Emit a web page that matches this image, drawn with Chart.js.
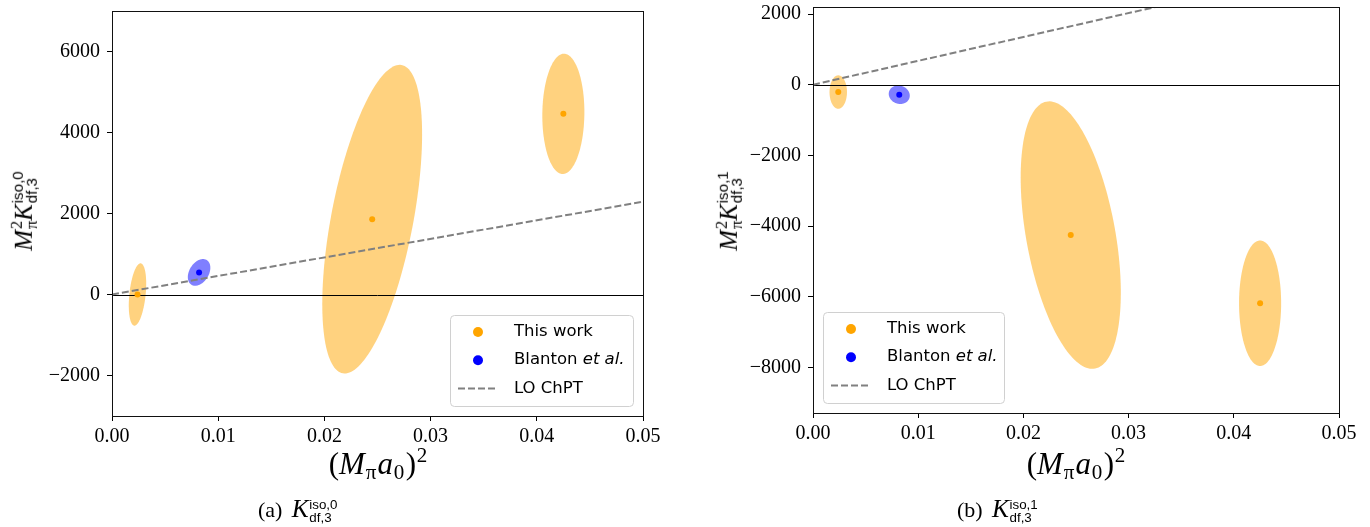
<!DOCTYPE html>
<html><head><meta charset="utf-8">
<script src="https://cdn.jsdelivr.net/npm/chart.js@4.4.0/dist/chart.umd.min.js"></script>
<style>
html,body{margin:0;padding:0;background:#fff;width:1370px;height:527px;overflow:hidden;position:relative;}
canvas{position:absolute;top:0;}
#c1{left:0;}
#c2{left:700px;}
.t{position:absolute;font-family:"Liberation Serif",serif;color:#000;white-space:nowrap;line-height:1;}
.sc{display:inline-block;vertical-align:-0.32em;line-height:0.92;font-size:0.66em;text-align:left;margin-left:0.05em;}
.sc span{display:block;}
.sf{font-family:"Liberation Sans",sans-serif;font-size:0.92em;}
.rot{transform:translate(-50%,-50%) rotate(-90deg);}
.cen{transform:translateX(-50%);}
.cap{font-size:22px;}
.cap i{font-size:1.15em;margin-left:0.15em;}
sup.s{font-size:0.68em;vertical-align:0.55em;line-height:0;margin-left:0.04em;}
sub.s{font-size:0.68em;vertical-align:-0.25em;line-height:0;margin-left:0.04em;margin-right:0.06em;}
</style></head><body>
<canvas id="c1" width="690" height="527"></canvas>
<canvas id="c2" width="670" height="527"></canvas>

<div class="t rot" style="left:24px;top:211px;font-size:25px;"><i>M</i><span class="sc"><span>2</span><span>π</span></span><i>K</i><span class="sc"><span class="sf">iso,0</span><span class="sf">df,3</span></span></div>
<div class="t rot" style="left:729px;top:211px;font-size:25px;"><i>M</i><span class="sc"><span>2</span><span>π</span></span><i>K</i><span class="sc"><span class="sf">iso,1</span><span class="sf">df,3</span></span></div>

<div class="t cen" style="left:378px;top:448px;font-size:31px;">(<i>M</i><sub class="s">π</sub><i>a</i><sub class="s">0</sub>)<sup class="s">2</sup></div>
<div class="t cen" style="left:1076px;top:448px;font-size:31px;">(<i>M</i><sub class="s">π</sub><i>a</i><sub class="s">0</sub>)<sup class="s">2</sup></div>

<div class="t cap" style="left:258px;top:496px;">(a) <i>K</i><span class="sc"><span class="sf">iso,0</span><span class="sf">df,3</span></span></div>
<div class="t cap" style="left:957px;top:496px;">(b) <i>K</i><span class="sc"><span class="sf">iso,1</span><span class="sf">df,3</span></span></div>

<script>
// ---------------- data ----------------
const xTicks = [0, 0.01, 0.02, 0.03, 0.04, 0.05];
const yTicksIso0 = [-2000, 0, 2000, 4000, 6000];
const yTicksIso1 = [-8000, -6000, -4000, -2000, 0, 2000];
const seriesLabels = ['This work', 'Blanton et al.', 'LO ChPT'];

// This work (three ensembles)
const thisWorkX = [0.0024, 0.0245, 0.0425];
const thisWorkIso0Y = [0, 1860, 4460];
const thisWorkIso0ErrX = [0.00082, 0.0047, 0.00198];
const thisWorkIso0ErrY = [770, 3810, 1485];
const thisWorkIso0Corr = [0.35, 0.55, 0.03];
const thisWorkIso1Y = [-207, -4255, -6184];
const thisWorkIso1ErrX = [0.00083, 0.00476, 0.002];
const thisWorkIso1ErrY = [473, 3785, 1776];
const thisWorkIso1Corr = [0.0, -0.43, 0.0];

// Blanton et al.
const blantonX = [0.0082];
const blantonIso0Y = [545];
const blantonIso0ErrX = [0.00106];
const blantonIso0ErrY = [330];
const blantonIso0Corr = [0.35];
const blantonIso1Y = [-283];
const blantonIso1ErrX = [0.001];
const blantonIso1ErrY = [262];
const blantonIso1Corr = [-0.1];

// LO ChPT line
const loX = [0, 0.05];
const loIso0Y = [0, 2290];
const loIso1Y = [0, 3380];

// ---------------- plugins ----------------
const ellipsePlugin = {
  id: 'errEllipses',
  beforeDatasetsDraw(chart) {
    const {ctx, chartArea: a, scales: {x, y}} = chart;
    ctx.save();
    ctx.beginPath(); ctx.rect(a.left, a.top, a.width, a.height); ctx.clip();
    chart.data.datasets.forEach(ds => {
      const e = ds.ellipses; if (!e) return;
      ds.data.forEach((p, i) => {
        const sx = e.sx[i], sy = e.sy[i], r = e.rho[i];
        const k = Math.sqrt(1 - r * r);
        ctx.beginPath();
        for (let j = 0; j <= 160; j++) {
          const t = j / 160 * 2 * Math.PI;
          const c = Math.cos(t), s = Math.sin(t);
          const px = x.getPixelForValue(p.x + sx * c);
          const py = y.getPixelForValue(p.y + sy * (r * c + k * s));
          if (j) ctx.lineTo(px, py); else ctx.moveTo(px, py);
        }
        ctx.closePath();
        ctx.fillStyle = e.color; ctx.fill();
      });
    });
    const z = Math.round(y.getPixelForValue(0)) + 0.5;
    ctx.beginPath(); ctx.moveTo(a.left, z); ctx.lineTo(a.right, z);
    ctx.strokeStyle = '#000'; ctx.lineWidth = 1; ctx.stroke();
    ctx.restore();
  },
  afterDatasetsDraw(chart) {
    const {ctx, chartArea: a} = chart;
    ctx.save();
    ctx.strokeStyle = '#111'; ctx.lineWidth = 1;
    ctx.strokeRect(Math.round(a.left) + 0.5, Math.round(a.top) + 0.5, Math.round(a.right) - Math.round(a.left), Math.round(a.bottom) - Math.round(a.top));
    ctx.restore();
  }
};

const boxLegend = {
  id: 'boxLegend',
  afterDraw(chart, args, o) {
    const {ctx, chartArea: a} = chart;
    const left = o.side === 'right' ? a.right - o.margin - o.width : a.left + o.margin;
    const top = a.bottom - o.margin - o.height;
    ctx.save();
    ctx.beginPath();
    ctx.roundRect(left + 0.5, top + 0.5, o.width, o.height, 4);
    ctx.fillStyle = 'rgba(255,255,255,0.85)'; ctx.fill();
    ctx.strokeStyle = '#d0d0d0'; ctx.lineWidth = 1; ctx.stroke();
    chart.data.datasets.forEach((ds, i) => {
      const cy = top + o.firstRow + i * o.rowGap;
      const mx = left + o.markerX;
      if (ds.showLine) {
        ctx.beginPath(); ctx.setLineDash(ds.borderDash); ctx.lineWidth = ds.borderWidth;
        ctx.strokeStyle = ds.borderColor; ctx.moveTo(mx - 20, cy); ctx.lineTo(mx + 20, cy); ctx.stroke();
        ctx.setLineDash([]);
      } else {
        ctx.beginPath(); ctx.arc(mx, cy, 5, 0, 2 * Math.PI);
        ctx.fillStyle = ds.backgroundColor; ctx.fill();
      }
      ctx.fillStyle = '#000'; ctx.textBaseline = 'middle'; ctx.textAlign = 'left';
      const lbl = ds.label; const idx = lbl.indexOf('et al.');
      let tx = left + o.textX;
      const normal = '16.5px "DejaVu Sans"', ital = 'oblique 16.5px "DejaVu Sans"';
      if (idx >= 0) {
        const p1 = lbl.slice(0, idx), p2 = lbl.slice(idx);
        ctx.font = normal; ctx.fillText(p1, tx, cy); tx += ctx.measureText(p1).width;
        ctx.font = ital; ctx.fillText(p2, tx, cy);
      } else { ctx.font = normal; ctx.fillText(lbl, tx, cy); }
    });
    ctx.restore();
  }
};

// ---------------- chart builder ----------------
const fmtY = v => v < 0 ? '\u2212' + Math.abs(v) : String(v);
function pts(xs, ys) { return xs.map((x, i) => ({x, y: ys[i]})); }

function makeChart(id, c) {
  return new Chart(document.getElementById(id), {
    type: 'scatter',
    data: {
      datasets: [
        {label: seriesLabels[0], data: pts(thisWorkX, c.twY), backgroundColor: '#FFA500', borderWidth: 0, pointRadius: 3,
         ellipses: {sx: c.twEx, sy: c.twEy, rho: c.twR, color: 'rgba(255,165,0,0.5)'}},
        {label: seriesLabels[1], data: pts(blantonX, c.blY), backgroundColor: '#0000FF', borderWidth: 0, pointRadius: 3,
         ellipses: {sx: c.blEx, sy: c.blEy, rho: c.blR, color: 'rgba(0,0,255,0.5)'}},
        {label: seriesLabels[2], data: pts(loX, c.loY), showLine: true, borderColor: '#808080', backgroundColor: '#808080',
         borderWidth: 2, borderDash: [7, 3], pointRadius: 0, fill: false}
      ]
    },
    options: {
      responsive: false, animation: false, events: [],
      layout: {padding: {top: c.padTop, right: c.padRight, left: 0, bottom: 0}},
      plugins: {legend: {display: false}, tooltip: {enabled: false},
        boxLegend: {side: c.legendSide, margin: 10, width: c.legendW, height: 91, firstRow: 17, rowGap: 28.2, markerX: 28, textX: 64}},
      scales: {
        x: {type: 'linear', min: 0, max: 0.05,
          afterBuildTicks: s => { s.ticks = xTicks.map(v => ({value: v})); },
          afterFit: s => { s.height = c.xH; s.paddingLeft = 0; s.paddingRight = 0; },
          ticks: {callback: v => v.toFixed(2), color: '#000', font: {family: 'Liberation Serif', size: 20}, padding: 4, maxRotation: 0, autoSkip: false},
          grid: {drawOnChartArea: false, drawTicks: true, tickLength: 5, color: '#000', tickColor: '#000'},
          border: {display: false}},
        y: {type: 'linear', min: c.yMin, max: c.yMax,
          afterBuildTicks: s => { s.ticks = c.yTicks.map(v => ({value: v})); },
          afterFit: s => { s.width = c.yW; s.paddingTop = 0; s.paddingBottom = 0; },
          ticks: {callback: fmtY, color: '#000', font: {family: 'Liberation Serif', size: 20}, padding: 7, autoSkip: false},
          grid: {drawOnChartArea: false, drawTicks: true, tickLength: 5, color: '#000', tickColor: '#000'},
          border: {display: false}}
      }
    },
    plugins: [ellipsePlugin, boxLegend]
  });
}

makeChart('c1', {twY: thisWorkIso0Y, twEx: thisWorkIso0ErrX, twEy: thisWorkIso0ErrY, twR: thisWorkIso0Corr,
  blY: blantonIso0Y, blEx: blantonIso0ErrX, blEy: blantonIso0ErrY, blR: blantonIso0Corr, loY: loIso0Y,
  yMin: -3000, yMax: 7000, yTicks: yTicksIso0, padTop: 11, padRight: 47, xH: 111, yW: 112, legendSide: 'right', legendW: 183});
makeChart('c2', {twY: thisWorkIso1Y, twEx: thisWorkIso1ErrX, twEy: thisWorkIso1ErrY, twR: thisWorkIso1Corr,
  blY: blantonIso1Y, blEx: blantonIso1ErrX, blEy: blantonIso1ErrY, blR: blantonIso1Corr, loY: loIso1Y,
  yMin: -9290, yMax: 2200, yTicks: yTicksIso1, padTop: 7, padRight: 31, xH: 114, yW: 113, legendSide: 'left', legendW: 181});
</script>
</body></html>
